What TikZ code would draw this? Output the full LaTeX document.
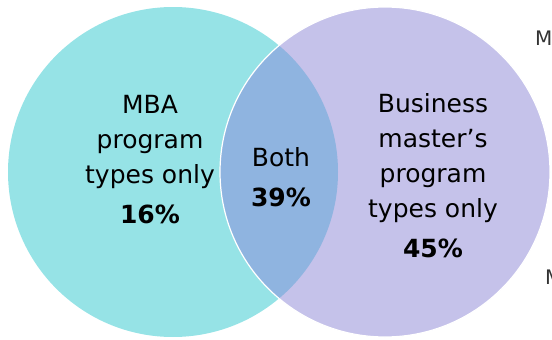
\documentclass[tikz,border=0pt]{standalone}
\usepackage{fontspec}
\setmainfont{DejaVu Sans}
\definecolor{mba}{RGB}{150,227,230}
\definecolor{msc}{RGB}{197,194,234}
\definecolor{both}{RGB}{143,180,224}
\definecolor{side}{RGB}{51,51,51}

\begin{document}
\begin{tikzpicture}[x=1pt,y=-1pt,
    set/.style={circle, minimum size=330pt, inner sep=0pt, fill=#1},
    lbl/.style={align=center, font=\fontsize{25}{35}\selectfont, inner sep=0pt},
    cut/.style={font=\fontsize{20}{24}\selectfont, text=side, anchor=west, inner sep=0pt},
]
\useasboundingbox (0,0) rectangle (552,340);

% Sets
\node[set=mba] (mbaset) at (173,172) {};
\node[set=msc] (mscset) at (385,172) {};

% Overlap
\begin{scope}
  \clip (mbaset.center) circle (165);
  \fill[both] (mscset.center) circle (165);
\end{scope}
\draw[white, line width=1.2pt] (mscset.center) circle (165);

% Labels
\node[lbl] (mbatxt) at (150,160) {MBA\\program\\types only\\[5pt]\textbf{16\%}};
\node[lbl] (bothtxt) at (281,177) {Both\\[5pt]\textbf{39\%}};
\node[lbl] (msctxt) at (433,176) {Business\\master’s\\program\\types only\\[5pt]\textbf{45\%}};

% Cut-off side labels
\node[cut] (topcut) at (535,38) {Ma};
\node[cut] (botcut) at (545,277) {M};

\end{tikzpicture}
\end{document}
